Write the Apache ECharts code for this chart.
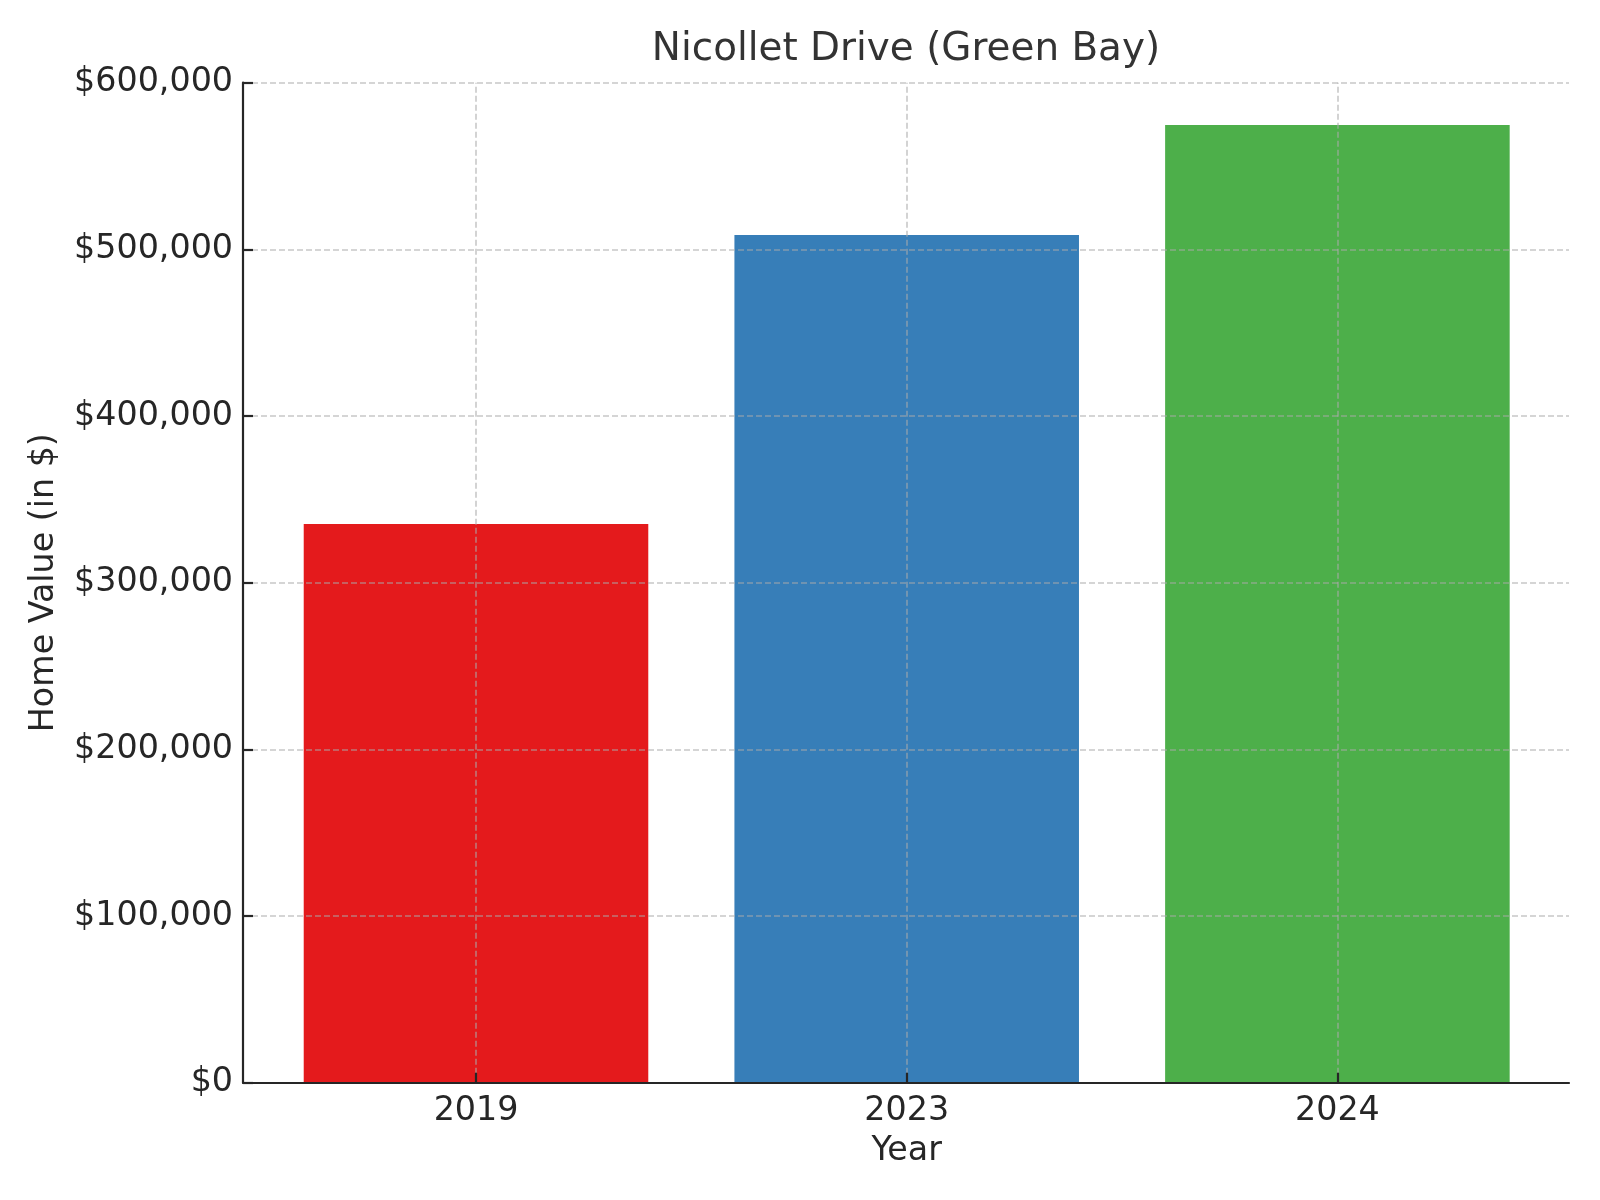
<!DOCTYPE html>
<html>
<head>
<meta charset="utf-8">
<script src="https://cdn.jsdelivr.net/npm/echarts@6/dist/echarts.min.js"></script>
<style>
html,body{margin:0;padding:0;background:#fff;}
#chart{width:1600px;height:1200px;}
</style>
</head>
<body>
<div id="chart"></div>
<script>
const years = ['2019', '2023', '2024'];
const homeValues = [335200, 508600, 574600];
const barColors = ['#e41a1c', '#377eb8', '#4daf4a'];
const yTicks = [0, 100000, 200000, 300000, 400000, 500000, 600000];

const chart = echarts.init(document.getElementById('chart'));
const font = 'DejaVu Sans';
const gridTop = 82.7, gridBottom = 1200 - 1082.7;
const axisColor = '#262626';
const gridColor = 'rgba(170,170,170,0.65)';

chart.setOption({
  animation: false,
  backgroundColor: '#ffffff',
  graphic: [{
    type: 'text', x: 906, y: 50, z: 10,
    style: {
      text: 'Nicollet Drive (Green Bay)',
      align: 'center', verticalAlign: 'middle',
      fontFamily: font, fontSize: 38.9, fill: '#333333'
    }
  }],
  grid: [
    { left: 243, right: 31, top: gridTop, bottom: gridBottom },
    { left: 260.65, right: 47.25, top: gridTop, bottom: gridBottom }
  ],
  xAxis: [
    {
      type: 'value', gridIndex: 0, min: 0, max: 1, z: 8,
      axisLine: { show: true, lineStyle: { color: axisColor, width: 2.2 } },
      axisTick: { show: false }, axisLabel: { show: false }, splitLine: { show: false }
    },
    {
      type: 'category', gridIndex: 1, data: years, boundaryGap: true, z: 8,
      name: 'Year', nameLocation: 'middle', nameGap: 52,
      nameTextStyle: { fontFamily: font, fontSize: 33.3, color: axisColor },
      axisLine: { show: false },
      axisTick: { show: true, inside: true, alignWithLabel: true, length: 10, lineStyle: { color: axisColor, width: 2.2 } },
      axisLabel: { fontFamily: font, fontSize: 33.3, color: axisColor, margin: 12 },
      splitLine: { show: false }
    }
  ],
  yAxis: [
    {
      type: 'value', gridIndex: 0, min: yTicks[0], max: yTicks[yTicks.length - 1], interval: 100000,
      z: 5,
      name: 'Home Value (in $)', nameLocation: 'middle', nameGap: 182,
      nameTextStyle: { fontFamily: font, fontSize: 33.3, color: axisColor },
      axisLine: { show: true, lineStyle: { color: axisColor, width: 2.2 } },
      axisTick: { show: true, inside: true, length: 10, lineStyle: { color: axisColor, width: 2.2 } },
      axisLabel: {
        fontFamily: font, fontSize: 33.3, color: axisColor, margin: 10,
        formatter: v => '$' + v.toLocaleString('en-US')
      },
      splitLine: { show: true, lineStyle: { color: gridColor, width: 1.6, type: [6, 3] } }
    },
    {
      type: 'value', gridIndex: 1, min: yTicks[0], max: yTicks[yTicks.length - 1],
      show: false, splitLine: { show: false }
    }
  ],
  series: [
    {
      type: 'bar', xAxisIndex: 1, yAxisIndex: 1, barWidth: '80%',
      data: homeValues.map((v, i) => ({ value: v, itemStyle: { color: barColors[i] } })),
      markLine: {
        silent: true, symbol: ['none', 'none'], label: { show: false },
        lineStyle: { color: gridColor, width: 1.6, type: [6, 3] },
        data: years.map(y => ({ xAxis: y }))
      }
    }
  ]
});
</script>
</body>
</html>
